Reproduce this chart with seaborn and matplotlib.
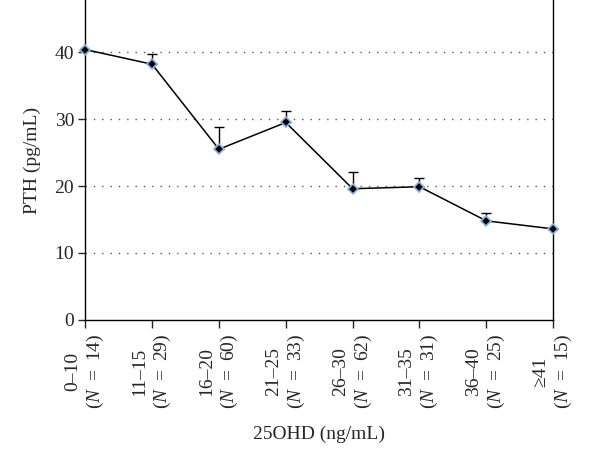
import numpy as np
import pandas as pd
import matplotlib
matplotlib.use("Agg")
import matplotlib.pyplot as plt
import seaborn as sns

# data
groups = ["0–10", "11–15", "16–20", "21–25", "26–30", "31–35", "36–40", "≥41"]
counts = [14, 29, 60, 33, 62, 31, 25, 15]
pth = [40.4, 38.2, 25.5, 29.5, 19.6, 19.9, 14.8, 13.6]
err_up = [0.0, 1.6, 3.3, 1.7, 2.5, 1.3, 1.2, 0.0]

sns.set_style("white")
plt.rcParams['font.family'] = ['Liberation Serif', 'DejaVu Serif']
plt.rcParams['mathtext.fontset'] = 'custom'
plt.rcParams['mathtext.it'] = 'Liberation Serif:italic'
plt.rcParams['mathtext.rm'] = 'Liberation Serif'

df = pd.DataFrame({"pos": np.arange(len(groups)), "PTH": pth})

fig = plt.figure(figsize=(6, 4.59), dpi=100)
ax = fig.add_axes([0.142, 0.303, 0.780, 0.697])

# upper-only error bars
ax.errorbar(df["pos"], df["PTH"], yerr=[np.zeros(len(err_up)), err_up],
            fmt="none", ecolor="black", elinewidth=1.0, capsize=3.5,
            capthick=1.0, zorder=2, clip_on=False)

sns.lineplot(data=df, x="pos", y="PTH", ax=ax, color="black", linewidth=1.1,
             marker="D", markersize=5, markerfacecolor="black",
             markeredgecolor="#8db3dc", markeredgewidth=1.2, zorder=3,
             clip_on=False)

ax.set_xlim(0, len(groups) - 1)
ax.set_ylim(0, 47.8)
ax.set_yticks([0, 10, 20, 30, 40])
ax.set_xticks(df["pos"])
labels = [f"{g}\n($N$\u2009 = \u2009{n})" for g, n in zip(groups, counts)]
ax.set_xticklabels(labels, rotation=90, fontsize=14, multialignment="center",
                   linespacing=1.25)
ax.tick_params(axis="y", labelsize=14, direction="out", length=5, width=1, left=True, pad=3)
ax.tick_params(axis="x", direction="out", length=6, width=1, bottom=True, pad=4)

for y in [10, 20, 30, 40]:
    ax.axhline(y, color="#555555", linestyle=(0, (1, 5)), linewidth=1.0, zorder=1)

for s in ["left", "right", "bottom"]:
    ax.spines[s].set_color("black")
    ax.spines[s].set_linewidth(1.0)
ax.spines["top"].set_visible(False)

ax.set_xlabel("25OHD (ng/mL)", fontsize=14, labelpad=12)
ax.set_ylabel("PTH (pg/mL)", fontsize=14, labelpad=10)

fig.savefig("out.png", dpi=100)
